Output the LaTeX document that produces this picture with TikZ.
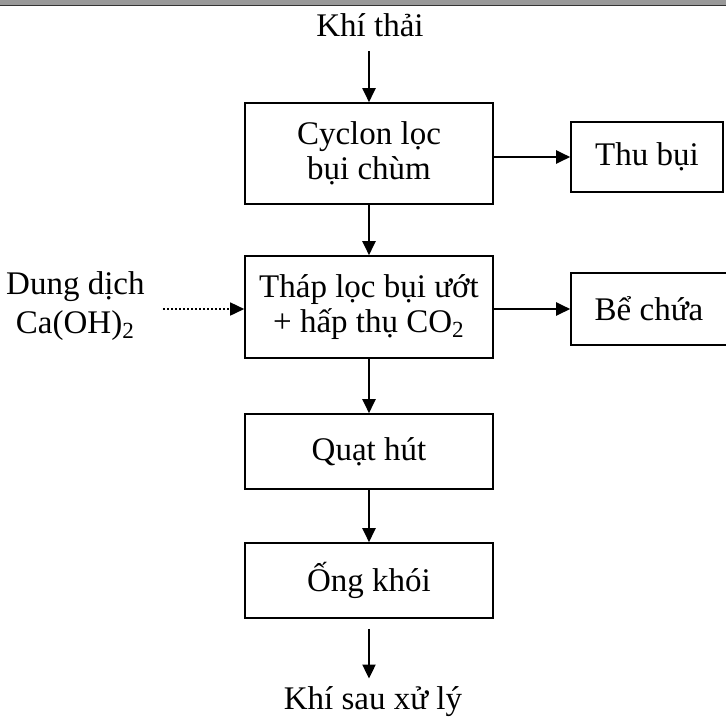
\documentclass[tikz,border=0pt]{standalone}
\usepackage{fontspec}
\setmainfont{Liberation Serif}
\usetikzlibrary{arrows.meta}

\begin{document}
\begin{tikzpicture}[x=0.5pt,y=-0.5pt,
  box/.style={draw,line width=0.8pt,minimum width=124pt,align=center,inner sep=0pt,
    font=\fontsize{16.5}{17.5}\selectfont},
  lbl/.style={align=center,inner sep=0pt,font=\fontsize{16.5}{19.5}\selectfont},
  arr/.style={line width=1pt,-{Triangle[length=7pt,width=6.5pt]}}]
\useasboundingbox (0,0) rectangle (726,724);
\clip (0,0) rectangle (726,724);
\draw[gray!80,line width=2.5pt] (0,2.5) -- (726,2.5);
\draw[gray!40!black,line width=0.6pt] (0,5.5) -- (726,5.5);

\node[lbl] (khithai) at (370,25) {Khí thải};
\node[box,minimum height=50.5pt] (cyclon) at (369,153.5) {Cyclon lọc\\bụi chùm};
\node[box,minimum width=76pt,minimum height=35pt] (thubui) at (647,157) {Thu bụi};
\node[box,minimum height=51pt] (thap) at (369,307) {Tháp lọc bụi ướt\\+ hấp thụ CO\textsubscript{2}};
\node[box,minimum width=78pt,minimum height=36pt] (bechua) at (649,309) {Bể chứa};
\node[lbl,anchor=east] (dungdich) at (145,306) {Dung dịch\\Ca(OH)\textsubscript{2}};
\node[box,minimum height=37.5pt] (quat) at (369,451.5) {Quạt hút};
\node[box,minimum height=37.5pt] (ong) at (369,580.5) {Ống khói};
\node[lbl] (khisau) at (373,702) {Khí sau xử lý};

\draw[arr,shorten <=7pt] (khithai.south -| cyclon.north) -- (cyclon.north);
\draw[arr] (cyclon) -- (thap);
\draw[arr] (thap) -- (quat);
\draw[arr] (quat) -- (ong);
\draw[arr,shorten <=5pt,shorten >=4pt] (ong.south) -- (ong.south |- khisau.north);
\draw[arr] (cyclon.east |- thubui.west) -- (thubui.west);
\draw[arr] (thap.east |- bechua.west) -- (bechua.west);
\draw[arr,line width=0.8pt,dash pattern=on 1pt off 1pt,shorten <=9pt]
  (dungdich.east |- 0,309) -- (thap.west |- 0,309);
\end{tikzpicture}
\end{document}
